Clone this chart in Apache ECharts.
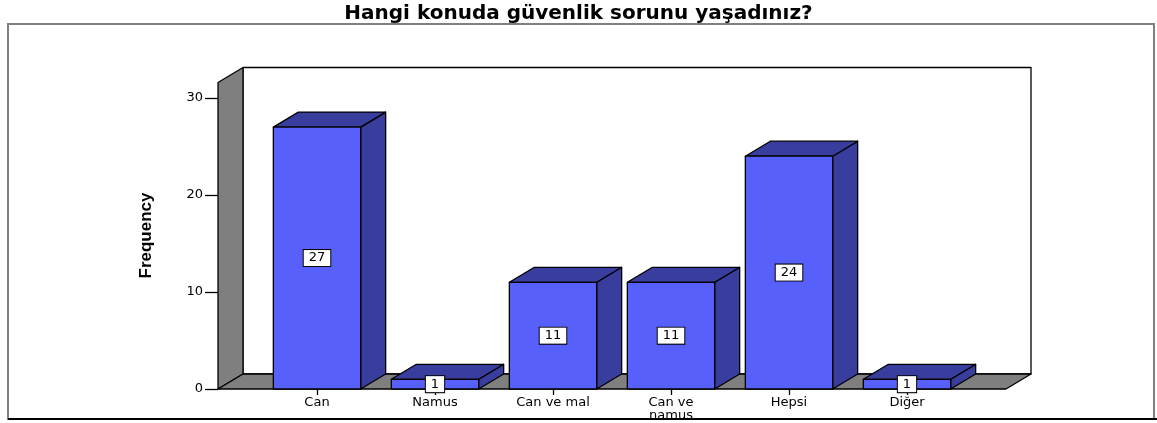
<!DOCTYPE html>
<html>
<head>
<meta charset="utf-8">
<script src="https://cdn.jsdelivr.net/npm/echarts@6/dist/echarts.min.js"></script>
<style>
html,body{margin:0;padding:0;background:#fff;}
#main{width:1157px;height:423px;}
</style>
</head>
<body>
<div id="main"></div>
<script>
// data
const categories = ['Can', 'Namus', 'Can ve mal', 'Can ve\nnamus', 'Hepsi', 'Diğer'];
const frequencies = [27, 1, 11, 11, 24, 1];
const yTicks = [0, 10, 20, 30];
const wallTop = 31.6; // where the walls stop on the value axis

const DX = 25, DY = -15;   // depth of the fake 3d
const SIDE = 40;           // floor past first / last category
const FRONT = '#5860fc', DARK = '#393d9e', WALL = '#7f7f7f';

const renderWalls = (params, api) => {
    let cs = params.coordSys;
    let yb = api.coord([0, 0])[1];
    let yt = api.coord([0, wallTop])[1];
    let L = cs.x - SIDE, R = cs.x + cs.width + SIDE;
    let line = {stroke: '#000', lineWidth: 1.3, lineJoin: 'round'};
    return {
        type: 'group',
        children: [
            {type: 'rect', shape: {x: L + DX, y: yt + DY, width: R - L, height: yb - yt},
                style: Object.assign({fill: '#fff'}, line)},
            {type: 'polygon', shape: {points: [[L, yb], [L, yt], [L + DX, yt + DY], [L + DX, yb + DY]]},
                style: Object.assign({fill: WALL}, line)},
            {type: 'polygon', shape: {points: [[L, yb], [L + DX, yb + DY], [R + DX, yb + DY], [R, yb]]},
                style: Object.assign({fill: WALL}, line)}
        ]
    };
};

const renderBar = (params, api) => {
    let i = api.value(0), v = api.value(1);
    let base = api.coord([i, 0]), head = api.coord([i, v]);
    let w = api.size([1, 0])[0] * 0.74;
    let x0 = base[0] - w / 2, x1 = base[0] + w / 2;
    let yb = base[1], yt = head[1];
    let line = {stroke: '#000', lineWidth: 1.3, lineJoin: 'round'};
    return {
        type: 'group',
        children: [
            {type: 'polygon', shape: {points: [[x1, yt], [x1 + DX, yt + DY], [x1 + DX, yb + DY], [x1, yb]]},
                style: Object.assign({fill: DARK}, line)},
            {type: 'polygon', shape: {points: [[x0, yt], [x0 + DX, yt + DY], [x1 + DX, yt + DY], [x1, yt]]},
                style: Object.assign({fill: DARK}, line)},
            {type: 'rect', shape: {x: x0, y: yt, width: w, height: yb - yt},
                style: Object.assign({fill: FRONT}, line)},
            {type: 'text', x: base[0], y: (yt + yb) / 2,
                style: {
                    text: String(v), fill: '#000', font: '13px "DejaVu Sans"',
                    align: 'center', verticalAlign: 'middle',
                    backgroundColor: '#fff', borderColor: '#000', borderWidth: 1,
                    padding: [2, 5, 1, 5]
                }}
        ]
    };
};

let chart = echarts.init(document.getElementById('main'));
chart.setOption({
    animation: false,
    backgroundColor: '#fff',
    title: {
        text: 'Hangi konuda güvenlik sorunu yaşadınız?',
        left: 'center',
        top: -1,
        textStyle: {fontFamily: 'DejaVu Sans', fontWeight: 'bold', fontSize: 20, color: '#000'}
    },
    graphic: [
        {type: 'rect', shape: {x: 8, y: 24, width: 1146, height: 395}, silent: true,
            style: {fill: 'none', stroke: '#808080', lineWidth: 2}},
        {type: 'line', shape: {x1: 8, y1: 419, x2: 1157, y2: 419}, silent: true,
            style: {stroke: '#000', lineWidth: 2}}
    ],
    grid: {left: 258, right: 191, top: 98, bottom: 34},
    xAxis: {
        type: 'category',
        data: categories,
        axisLine: {show: false},
        axisTick: {show: true, alignWithLabel: true, length: 6, lineStyle: {color: '#000', width: 1.3}},
        axisLabel: {color: '#000', fontFamily: 'DejaVu Sans', fontSize: 13, margin: 7, lineHeight: 13, interval: 0},
        splitLine: {show: false}
    },
    yAxis: {
        type: 'value',
        min: yTicks[0],
        max: yTicks[yTicks.length - 1],
        interval: yTicks[1] - yTicks[0],
        offset: SIDE,
        name: 'Frequency',
        nameLocation: 'middle',
        nameGap: 63,
        nameTextStyle: {
            fontFamily: '"Liberation Sans", Arial, sans-serif',
            fontWeight: 'bold', fontSize: 17, color: '#000', padding: [0, 0, 0, 16]
        },
        axisLine: {show: false},
        axisTick: {show: true, length: 13, lineStyle: {color: '#000', width: 1.3}},
        axisLabel: {color: '#000', fontFamily: 'DejaVu Sans', fontSize: 13, margin: 15},
        splitLine: {show: false}
    },
    series: [
        {type: 'custom', renderItem: renderWalls, data: [[0, 0]], z: 1, silent: true},
        {type: 'custom', renderItem: renderBar, data: frequencies.map((v, i) => [i, v]), z: 2, silent: true}
    ]
});
</script>
</body>
</html>
